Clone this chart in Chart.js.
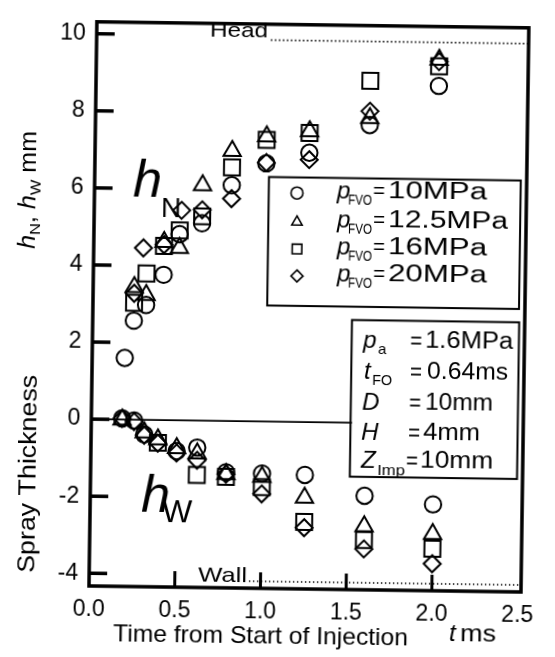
<!DOCTYPE html>
<html>
<head>
<meta charset="utf-8">
<title>Spray thickness</title>
<script src="https://cdn.jsdelivr.net/npm/chart.js@4.4.1/dist/chart.umd.min.js"></script>
<style>
  html, body { margin: 0; padding: 0; background: #fff; }
  #box { position: relative; width: 555px; height: 657px; overflow: hidden; }
  /* the whole sheet sits a little askew */
  #plot { transform: rotate(0.8deg); transform-origin: 309px 301px; }
</style>
</head>
<body>
<div id="box"><canvas id="plot" width="555" height="657"></canvas></div>
<script>
// axis ticks
const xTicks = [0, 0.5, 1.0, 1.5, 2.0, 2.5];
const xTickMarks = [0.5, 1.0, 1.5, 2.0];
const yTicks = [-4, -2, 0, 2, 4, 6, 8, 10];

// injection pressures p_FVO (MPa) and their symbols
const pressures = ['10', '12.5', '16', '20'];
const shapes = ['circle', 'triangle', 'rect', 'rectRot'];
const radii = [8.2, 10, 11.3, 8.5];

// head side thickness hN (mm) against time t (ms)
const tN10 = [0.19, 0.24, 0.31, 0.41, 0.5, 0.63, 0.8, 1.0, 1.25, 1.6, 2.0];
const hN10 = [1.6, 2.57, 2.98, 3.77, 4.83, 5.12, 6.12, 6.7, 6.99, 7.73, 8.77];
const tN125 = [0.24, 0.31, 0.41, 0.5, 0.63, 0.8, 1.0, 1.25, 1.6, 2.0];
const hN125 = [3.44, 3.24, 4.62, 4.47, 6.11, 7.01, 7.4, 7.55, 7.91, 9.45];
const tN16 = [0.24, 0.31, 0.41, 0.5, 0.63, 0.8, 1.0, 1.25, 1.6, 2.0];
const hN16 = [3.03, 3.8, 4.52, 4.93, 5.3, 6.58, 7.31, 7.5, 8.88, 9.28];
const tN20 = [0.24, 0.29, 0.41, 0.51, 0.63, 0.8, 1.0, 1.25, 1.6, 2.0];
const hN20 = [3.28, 4.46, 4.55, 5.45, 5.47, 5.77, 6.72, 6.81, 8.09, 9.4];

// wall side thickness hW (mm), plotted downward
const tW10 = [0.18, 0.25, 0.31, 0.5, 0.62, 0.79, 1.0, 1.25, 1.6, 2.0];
const hW10 = [0.03, -0.02, -0.38, -0.8, -0.7, -1.33, -1.35, -1.37, -1.89, -2.09];
const tW125 = [0.18, 0.31, 0.39, 0.5, 0.62, 0.79, 1.0, 1.25, 1.6, 2.0];
const hW125 = [0, -0.33, -0.5, -0.72, -0.85, -1.38, -1.44, -1.96, -2.68, -2.86];
const tW16 = [0.39, 0.62, 0.79, 1.0, 1.25, 1.6, 2.0];
const hW16 = [-0.59, -1.41, -1.45, -1.7, -2.59, -3.04, -3.24];
const tW20 = [0.18, 0.25, 0.31, 0.39, 0.5, 0.62, 0.79, 1.0, 1.25, 1.6, 2.0];
const hW20 = [0.03, -0.05, -0.4, -0.6, -0.85, -1.03, -1.38, -1.88, -2.74, -3.27, -3.63];

// head and wall positions (mm)
const headLevel = 9.9;
const wallLevel = -4.15;

const FONT = '"Liberation Sans", Arial, Helvetica, sans-serif';
const TILT = 0.8 * Math.PI / 180;
const PIVOT = [309, 301];

// labels are placed in sheet coordinates; turn them back into canvas coordinates
function at(px, py) {
	const dx = px - PIVOT[0], dy = py - PIVOT[1];
	const c = Math.cos(TILT), s = Math.sin(TILT);
	return [PIVOT[0] + dx * c + dy * s, PIVOT[1] - dx * s + dy * c];
}

// one piece of text, left edge at (x, y) on the baseline, optionally fitted to width w
function word(ctx, s, x, y, size, w, italic) {
	ctx.font = (italic ? 'italic ' : '') + size + 'px ' + FONT;
	const m = ctx.measureText(s).width;
	const p = at(x, y);
	ctx.save();
	ctx.translate(p[0], p[1]);
	ctx.scale(w ? w / m : 1, 1);
	ctx.textAlign = 'left';
	ctx.textBaseline = 'alphabetic';
	ctx.fillText(s, 0, 0);
	ctx.restore();
}

// vertical title made of pieces [text, size, italic, drop], centred at (x, y)
function upWord(ctx, parts, x, y, len) {
	let total = 0;
	parts.forEach(q => { ctx.font = (q[2] ? 'italic ' : '') + q[1] + 'px ' + FONT; total += ctx.measureText(q[0]).width; });
	const k = len / total;
	const p = at(x, y);
	ctx.save();
	ctx.translate(p[0], p[1]);
	ctx.rotate(-Math.PI / 2);
	ctx.scale(k, 1);
	ctx.textAlign = 'left';
	ctx.textBaseline = 'alphabetic';
	let cx = -total / 2;
	parts.forEach(q => {
		ctx.font = (q[2] ? 'italic ' : '') + q[1] + 'px ' + FONT;
		ctx.fillText(q[0], cx, q[3] || 0);
		cx += ctx.measureText(q[0]).width;
	});
	ctx.restore();
}

function line(ctx, x0, y0, x1, y1) {
	ctx.beginPath();
	ctx.moveTo(x0, y0);
	ctx.lineTo(x1, y1);
	ctx.stroke();
}

function box(ctx, x0, y0, x1, y1) {
	const a = at(x0, y0), b = at(x1, y1);
	ctx.strokeRect(a[0], a[1], b[0] - a[0], b[1] - a[1]);
}

// small legend symbol
function symbol(ctx, kind, x, y, r) {
	const p = at(x, y);
	ctx.beginPath();
	if (kind === 'circle') {
		ctx.arc(p[0], p[1], r, 0, Math.PI * 2);
	} else if (kind === 'triangle') {
		ctx.moveTo(p[0], p[1] - r);
		ctx.lineTo(p[0] + r * 0.866, p[1] + r * 0.5);
		ctx.lineTo(p[0] - r * 0.866, p[1] + r * 0.5);
		ctx.closePath();
	} else if (kind === 'rect') {
		ctx.rect(p[0] - r * 0.8, p[1] - r * 0.8, r * 1.6, r * 1.6);
	} else {
		ctx.moveTo(p[0], p[1] - r);
		ctx.lineTo(p[0] + r, p[1]);
		ctx.lineTo(p[0], p[1] + r);
		ctx.lineTo(p[0] - r, p[1]);
		ctx.closePath();
	}
	ctx.stroke();
}

function pts(t, h) {
	return t.map((v, i) => ({ x: v, y: h[i] }));
}

const headSeries = [[tN10, hN10], [tN125, hN125], [tN16, hN16], [tN20, hN20]];
const wallSeries = [[tW10, hW10], [tW125, hW125], [tW16, hW16], [tW20, hW20]];

const datasets = [];
pressures.forEach((p, i) => {
	[headSeries[i], wallSeries[i]].forEach((s, j) => {
		datasets.push({
			label: 'pFVO=' + p + 'MPa' + (j ? ' hW' : ' hN'),
			data: pts(s[0], s[1]),
			pointStyle: shapes[i],
			pointRadius: radii[i],
			pointBorderWidth: 2,
			pointBorderColor: '#000',
			pointBackgroundColor: 'rgba(0,0,0,0)',
			showLine: false
		});
	});
});

// frame, inward ticks, reference lines, boxes and all annotation text
const decor = {
	id: 'decor',
	afterDraw(chart) {
		const ctx = chart.ctx, a = chart.chartArea;
		const sx = chart.scales.x, sy = chart.scales.y;
		ctx.save();
		ctx.strokeStyle = '#000';
		ctx.fillStyle = '#000';
		ctx.lineCap = 'butt';

		ctx.lineWidth = 3.5;
		ctx.strokeRect(a.left, a.top, a.right - a.left, a.bottom - a.top);
		yTicks.forEach(v => {
			const p = sy.getPixelForValue(v);
			line(ctx, a.left, p, a.left + 18, p);
		});
		ctx.lineWidth = 3;
		xTickMarks.forEach(v => {
			const p = sx.getPixelForValue(v);
			line(ctx, p, a.bottom, p, a.bottom - 16);
		});

		// time labels under the frame
		ctx.font = '23px ' + FONT;
		ctx.textAlign = 'center';
		ctx.textBaseline = 'alphabetic';
		sx.ticks.forEach(t => {
			ctx.fillText(t.value.toFixed(1), sx.getPixelForValue(t.value), a.bottom + 30);
		});

		// hN / hW divide
		ctx.lineWidth = 1.6;
		const y0 = sy.getPixelForValue(0);
		line(ctx, a.left, y0, at(352, 420)[0], y0);

		// head and wall
		ctx.setLineDash([1.4, 2.6]);
		const yh = sy.getPixelForValue(headLevel), yw = sy.getPixelForValue(wallLevel);
		line(ctx, at(271, 30)[0], yh, a.right, yh);
		line(ctx, at(249, 578)[0], yw, a.right, yw);
		ctx.setLineDash([]);
		word(ctx, 'Head', 210, 37, 21, 58);
		word(ctx, 'Wall', 198, 581, 21, 49);

		// big hN / hW markers
		word(ctx, 'h', 133, 197, 52, null, true);
		word(ctx, 'N', 161, 217, 28);
		word(ctx, 'h', 141, 512, 52, null, true);
		word(ctx, 'W', 162, 522, 32);

		// legend
		ctx.lineWidth = 2;
		box(ctx, 269, 177, 519, 309);
		const base = [198, 227, 254, 281];
		const widths = [99, 120, 99, 99];
		ctx.lineWidth = 1.6;
		pressures.forEach((p, i) => {
			symbol(ctx, shapes[i], 297, base[i] - 5, 6);
			word(ctx, 'p', 337, base[i], 24, null, true);
			word(ctx, 'FVO', 348, base[i] + 7, 14, 24);
			word(ctx, '=', 373, base[i], 22, 12);
			word(ctx, p + 'MPa', 388, base[i], 23, widths[i]);
		});

		// conditions
		ctx.lineWidth = 2;
		box(ctx, 352, 320, 517, 479);
		word(ctx, 'p', 363, 348, 24, null, true);
		word(ctx, 'a', 378, 354, 15);
		word(ctx, '=', 410, 348, 23, 12);
		word(ctx, '1.6MPa', 425, 348, 23, 88);
		word(ctx, 't', 364, 379, 24, null, true);
		word(ctx, 'FO', 372, 385, 15, 20);
		word(ctx, '=', 410, 379, 23, 12);
		word(ctx, '0.64ms', 427, 379, 23, 81);
		word(ctx, 'D', 362, 410, 24, null, true);
		word(ctx, '=', 409, 410, 23, 12);
		word(ctx, '10mm', 425, 410, 23, 68);
		word(ctx, 'H', 361, 440, 24, null, true);
		word(ctx, '=', 408, 440, 23, 12);
		word(ctx, '4mm', 423, 440, 23, 57);
		word(ctx, 'Z', 361, 468, 24, null, true);
		word(ctx, 'Imp', 377, 475, 15, 28);
		word(ctx, '=', 406, 468, 23, 12);
		word(ctx, '10mm', 420, 468, 23, 73);

		// axis titles
		word(ctx, 'Time from Start of Injection', 113, 641, 24, 295);
		word(ctx, 't', 449, 641, 24, null, true);
		word(ctx, 'ms', 460, 641, 24, 36);
		upWord(ctx, [['Spray Thickness', 23]], 36, 474, 198);
		upWord(ctx, [['h', 23, true], ['N', 15, false, 5], [', ', 23], ['h', 23, true], ['W', 15, false, 5], [' mm', 23]], 36, 190, 118);

		ctx.restore();
	}
};

new Chart(document.getElementById('plot').getContext('2d'), {
	type: 'scatter',
	data: { datasets: datasets },
	options: {
		responsive: false,
		animation: false,
		devicePixelRatio: 1,
		layout: { padding: { top: 15, right: 30, left: 0, bottom: 0 } },
		plugins: { legend: { display: false }, tooltip: { enabled: false } },
		scales: {
			x: {
				type: 'linear', min: 0, max: 2.52,
				afterFit: s => { s.height = 68; },
				afterBuildTicks: s => { s.ticks = xTicks.map(v => ({ value: v })); },
				grid: { display: false }, border: { display: false },
				ticks: { display: false }
			},
			y: {
				type: 'linear', min: -4.33, max: 10.31,
				afterFit: s => { s.width = 93; },
				afterBuildTicks: s => { s.ticks = yTicks.map(v => ({ value: v })); },
				grid: { display: false, drawTicks: false }, border: { display: false },
				ticks: { color: '#000', font: { family: FONT, size: 23 }, padding: 11, autoSkip: false,
					callback: v => String(v) }
			}
		}
	},
	plugins: [decor]
});
</script>
</body>
</html>
